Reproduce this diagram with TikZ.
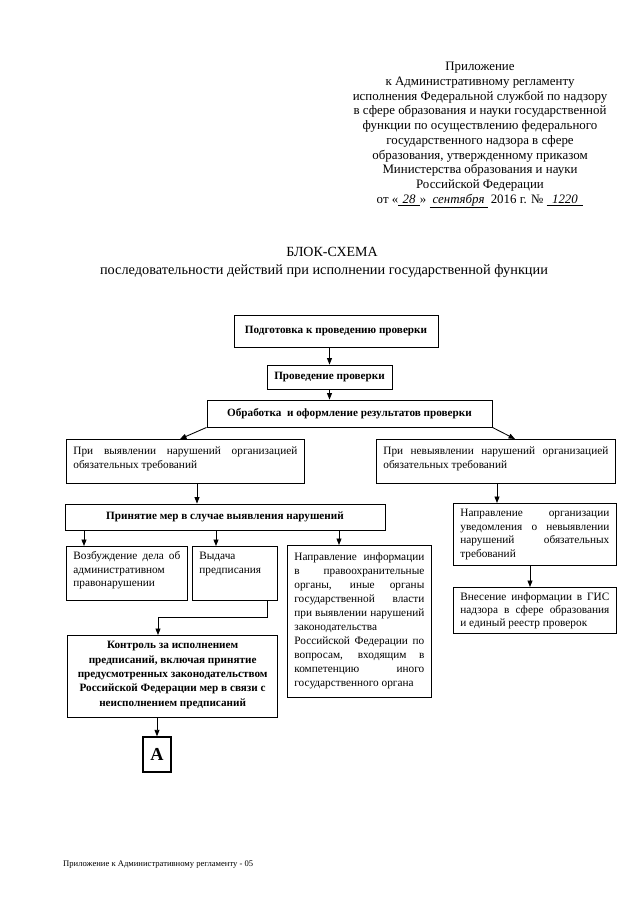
\documentclass[tikz,border=0pt]{standalone}
\usepackage{fontspec}
\setmainfont{Liberation Serif}
\usetikzlibrary{arrows.meta}
\newlength\pxu
\setlength\pxu{0.9301pt}
% regular justified text box: width, height, top pad, baselineskip, text
\newcommand\jbox[5]{\parbox[c][#2\pxu][t]{#1\pxu}{\fontsize{10.5}{#4}\selectfont\vspace*{#3\pxu}#5}}
% bold centred text box
\newcommand\cbox[5]{\parbox[c][#2\pxu][t]{#1\pxu}{\centering\bfseries\fontsize{10.4}{#4}\selectfont\vspace*{#3\pxu}#5}}
\newcommand\hw[2]{\underline{\makebox[#1]{\itshape #2}}}
\begin{document}
\begin{tikzpicture}[x=0.9301pt,y=-0.9301pt,
  bb/.style={draw, line width=0.8pt, inner sep=0pt, font=\bfseries\fontsize{10.4}{12}\selectfont},
  pb/.style={draw, line width=0.7pt, inner xsep=6.51pt, inner ysep=0pt, anchor=north west},
  arr/.style={-{Triangle[length=6pt,width=4.6pt]}, line width=0.8pt}]
\useasboundingbox (0,0) rectangle (640,905);
\fill[white] (0,0) rectangle (640,905);

% header
\node[font=\fontsize{12}{13.7}\selectfont, align=center, anchor=north, inner sep=0pt] (hdr) at (480,62)
 {Приложение\\к Административному регламенту\\исполнения Федеральной службой по надзору\\в сфере образования и науки государственной\\функции по осуществлению федерального\\государственного надзора в сфере\\образования, утвержденному приказом\\Министерства образования и науки\\Российской Федерации\\от «\hw{20pt}{28}» \hw{54pt}{сентября} 2016 г. № \hw{34pt}{1220}};

% title
\node[font=\fontsize{13}{16}\selectfont, inner sep=0pt] (t1) at (332,252) {БЛОК-СХЕМА};
\node[font=\fontsize{13.3}{16}\selectfont, inner sep=0pt] (t2) at (324,271) {последовательности действий при исполнении государственной функции};

% boxes
\node[bb, minimum width=189.7pt, minimum height=29.8pt] (b1) at (336,331) {Подготовка к проведению проверки};
\node[bb, minimum width=116.3pt, minimum height=22.3pt] (b2) at (329.5,377) {Проведение проверки};
\node[bb, minimum width=265.1pt, minimum height=25.1pt] (b3) at (349.5,413.5) {Обработка\ \ и оформление результатов проверки};

\node[pb] (b4) at (66,439) {\jbox{224}{44}{7}{13.2}{При выявлении нарушений организацией\linebreak обязательных требований}};
\node[pb] (b5) at (376,439) {\jbox{225}{44}{7}{13.2}{При невыявлении нарушений организацией\linebreak обязательных требований}};

\node[bb, minimum width=297.6pt, minimum height=24.2pt] (b6) at (225,517) {Принятие мер в случае выявления нарушений};

\node[pb] (b7) at (66,546) {\jbox{107}{54}{5}{12.8}{Возбуждение дела об\linebreak административном\newline правонарушении}};
\node[pb] (b8) at (192,546) {\jbox{71}{54}{6}{12.8}{Выдача\newline предписания}};
\node[pb] (b9) at (287,545) {\jbox{130}{152}{7}{13.1}{Направление информации\linebreak в правоохранительные\linebreak органы, иные органы\linebreak государственной власти\linebreak при выявлении нарушений\linebreak законодательства\newline Российской Федерации по\linebreak вопросам, входящим в\linebreak компетенцию иного\linebreak государственного органа}};

\node[pb, line width=1.2pt] (b10) at (67,635) {\cbox{196}{82}{6}{13.3}{Контроль за исполнением\\предписаний, включая принятие\\предусмотренных законодательством\\Российской Федерации мер в связи с\\неисполнением предписаний}};

\node[draw, line width=1.2pt, inner sep=0pt, minimum width=26.0pt, minimum height=32.6pt, font=\bfseries\fontsize{17}{20}\selectfont] (bA) at (157,754.5) {А};

\node[pb] (b11) at (453,503) {\jbox{149}{62}{6}{12.6}{Направление организации\linebreak уведомления о невыявлении\linebreak нарушений обязательных\linebreak требований}};
\node[pb] (b12) at (453,587) {\jbox{149}{46}{5}{12.3}{Внесение информации в ГИС\linebreak надзора в сфере образования\linebreak и единый реестр проверок}};

% footer
\node[font=\fontsize{8}{10}\selectfont, anchor=west, inner sep=0pt] (ftr) at (63,865) {Приложение к Административному регламенту - 05};

% helper x positions
\coordinate (x84) at (84,0);
\coordinate (x158) at (158,0);
\coordinate (x180) at (180,0);
\coordinate (x197) at (197,0);
\coordinate (x216) at (216,0);
\coordinate (x267) at (267,0);
\coordinate (x339) at (339,0);
\coordinate (x497) at (497,0);
\coordinate (x515) at (515,0);
\coordinate (x530) at (530,0);
\coordinate (k) at (158,617);

% connectors
\draw[arr] (b2.north |- b1.south) -- (b2.north);
\draw[arr] (b2.south) -- (b2.south |- b3.north);
\draw[arr] (b3.south west) -- (b4.north -| x180);
\draw[arr] (b3.south east) -- (b5.north -| x515);
\draw[arr] (b4.south -| x197) -- (b6.north -| x197);
\draw[arr] (b6.south -| x84) -- (b7.north -| x84);
\draw[arr] (b6.south -| x216) -- (b8.north -| x216);
\draw[arr] (b6.south -| x339) -- (b9.north -| x339);
\draw[arr] (b8.south -| x267) |- (k) -- (b10.north -| k);
\draw[arr] (b10.south -| bA.north) -- (bA.north);
\draw[arr] (b5.south -| x497) -- (b11.north -| x497);
\draw[arr] (b11.south -| x530) -- (b12.north -| x530);
\end{tikzpicture}
\end{document}
